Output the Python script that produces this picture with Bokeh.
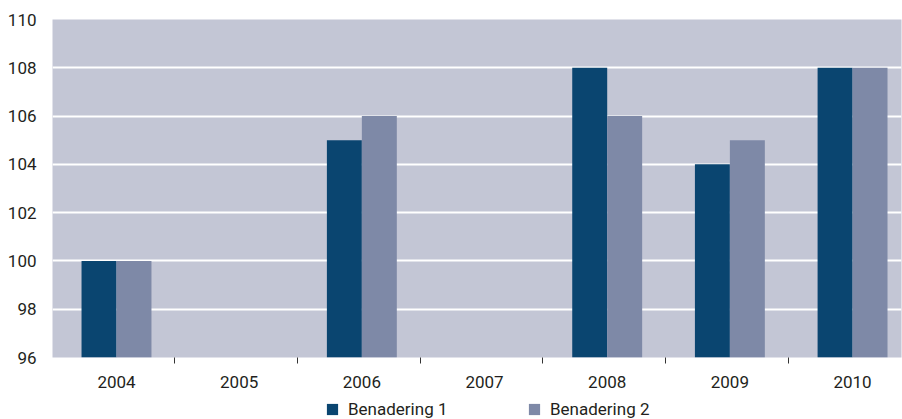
import numpy as np
from bokeh.plotting import figure
from bokeh.layouts import column
from bokeh.models import (ColumnDataSource, Range1d, FixedTicker, Legend, LegendItem)
from bokeh.transform import dodge
from bokeh.embed import file_html
from bokeh.resources import INLINE

years = ["2004", "2005", "2006", "2007", "2008", "2009", "2010"]
benadering_1 = [100, np.nan, 105, np.nan, 108, 104, 108]
benadering_2 = [100, np.nan, 106, np.nan, 106, 105, 108]
y_ticks = [96, 98, 100, 102, 104, 106, 108, 110]
series_names = ["Benadering 1", "Benadering 2"]

FONT = "Roboto"
TEXT = "#231f20"
DARK = "#0a4570"
GREY = "#7e89a7"
BG = "#c3c6d5"

idx = list(range(len(years)))
src = ColumnDataSource(dict(x=idx, b1=benadering_1, b2=benadering_2))

p = figure(width=902, height=390, output_backend="svg", toolbar_location=None,
           x_range=Range1d(-0.5217, 6.399), y_range=Range1d(96, 110),
           min_border_left=52, min_border_right=1, min_border_top=19,
           min_border_bottom=33)
p.background_fill_color = BG
p.border_fill_color = "white"
p.outline_line_color = None

r1 = p.vbar(x=dodge("x", -0.1425, range=p.x_range), width=0.285, top="b1", bottom=96,
            source=src, fill_color=DARK, line_color=None)
r2 = p.vbar(x=dodge("x", 0.1425, range=p.x_range), width=0.285, top="b2", bottom=96,
            source=src, fill_color=GREY, line_color=None)

# x axis
xa = p.xaxis[0]
xa.ticker = FixedTicker(ticks=idx, minor_ticks=[i + 0.475 for i in idx[:-1]])
xa.major_label_overrides = {i: y for i, y in enumerate(years)}
xa.axis_line_color = None
xa.major_tick_line_color = None
xa.major_tick_out = 0
xa.major_tick_in = 0
xa.minor_tick_line_color = "#333333"
xa.minor_tick_out = 6
xa.minor_tick_in = 0
xa.major_label_standoff = 12
xa.major_label_text_font = FONT
xa.major_label_text_font_size = "17px"
xa.major_label_text_color = TEXT

# y axis
ya = p.yaxis[0]
ya.ticker = FixedTicker(ticks=y_ticks)
ya.axis_line_color = None
ya.major_tick_line_color = None
ya.minor_tick_line_color = None
ya.major_tick_out = 0
ya.major_tick_in = 0
ya.major_label_standoff = 16
ya.major_label_text_font = FONT
ya.major_label_text_font_size = "17px"
ya.major_label_text_color = TEXT

p.xgrid.grid_line_color = None
p.ygrid.ticker = FixedTicker(ticks=y_ticks[1:-1])
p.ygrid.grid_line_color = "white"
p.ygrid.grid_line_width = 2

# legend strip below the chart (frame is aligned with the chart frame at x=52)
lg_fig = figure(width=902, height=29, output_backend="svg", toolbar_location=None,
                min_border=0, x_axis_location=None, y_axis_location=None)
lg_fig.outline_line_color = None
lg_fig.grid.grid_line_color = None
lg_fig.background_fill_color = "white"
lg_fig.border_fill_color = "white"
placeholder = ColumnDataSource(dict(x=[np.nan], top=[np.nan]))
g1 = lg_fig.vbar(x="x", top="top", width=1, source=placeholder, fill_color=DARK, line_color=None)
g2 = lg_fig.vbar(x="x", top="top", width=1, source=placeholder, fill_color=GREY, line_color=None)

for name, rend, xpos in zip(series_names, [g1, g2], [273, 475]):
    lg = Legend(items=[LegendItem(label=name, renderers=[rend])],
                location=(xpos, 0), orientation="horizontal",
                padding=0, margin=0, border_line_color=None,
                background_fill_alpha=0, glyph_width=14, glyph_height=14,
                label_standoff=9, label_text_font=FONT,
                label_text_font_size="17px", label_text_color=TEXT)
    lg_fig.add_layout(lg, "center")

layout = column(p, lg_fig, spacing=0)
open("out.html", "w").write(file_html(layout, INLINE))
